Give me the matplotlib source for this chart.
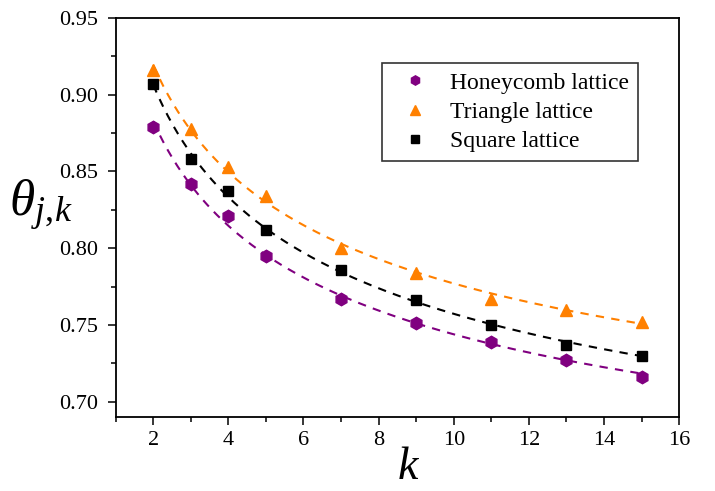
import numpy as np
import matplotlib
matplotlib.use("Agg")
import matplotlib.pyplot as plt
from matplotlib.ticker import MultipleLocator

plt.rcParams['font.family'] = ['Liberation Serif', 'DejaVu Serif']
plt.rcParams['mathtext.fontset'] = 'custom'
plt.rcParams['mathtext.it'] = 'Liberation Serif:italic'
plt.rcParams['mathtext.rm'] = 'Liberation Serif'

k_vals = [2, 3, 4, 5, 7, 9, 11, 13, 15]
honeycomb = [0.879, 0.842, 0.821, 0.795, 0.767, 0.751, 0.739, 0.727, 0.716]
triangle = [0.916, 0.878, 0.853, 0.834, 0.800, 0.784, 0.767, 0.760, 0.752]
square = [0.907, 0.858, 0.837, 0.812, 0.786, 0.766, 0.750, 0.737, 0.730]

series = [
    ("Honeycomb lattice", honeycomb, "#800080", "h", 9),
    ("Triangle lattice", triangle, "#FF8000", "^", 9),
    ("Square lattice", square, "#000000", "s", 7.5),
]


def fit_curve(x, y, xs):
    x = np.asarray(x, float)
    y = np.asarray(y, float)
    best = None
    for c in np.linspace(0.3, 3.0, 271):
        A = np.vstack([np.ones_like(x), x ** (-c)]).T
        coef, res, *_ = np.linalg.lstsq(A, y, rcond=None)
        err = np.sum((A @ coef - y) ** 2)
        if best is None or err < best[0]:
            best = (err, coef, c)
    _, coef, c = best
    return coef[0] + coef[1] * xs ** (-c)


fig = plt.figure(figsize=(7.15, 4.91), dpi=100)
ax = fig.add_axes([0.1618, 0.1507, 0.7880, 0.8126])

xs = np.linspace(min(k_vals), max(k_vals), 200)
for name, vals, col, mk, ms in series:
    ax.plot(xs, fit_curve(k_vals, vals, xs), linestyle=(0, (4, 3.5)), color=col, lw=1.5, zorder=2)
    ax.plot(k_vals, vals, linestyle='none', marker=mk, color=col, markersize=ms,
            label=name, zorder=3)

ax.set_xlim(1, 16)
ax.set_ylim(0.69, 0.95)
ax.xaxis.set_major_locator(MultipleLocator(2))
ax.xaxis.set_minor_locator(MultipleLocator(1))
ax.yaxis.set_minor_locator(MultipleLocator(0.025))
ax.set_yticks([0.70, 0.75, 0.80, 0.85, 0.90, 0.95])
ax.set_yticklabels(["0.70", "0.75", "0.80", "0.85", "0.90", "0.95"])
ax.tick_params(which='major', direction='out', length=6, width=1.1, labelsize=16, pad=4)
ax.tick_params(axis='y', which='major', pad=6.5)
ax.tick_params(which='minor', direction='out', length=3.5, width=1.1)
for s in ax.spines.values():
    s.set_linewidth(1.3)

ax.set_xlabel(r"$k$", fontsize=33)
ax.xaxis.set_label_coords(0.52, -0.155, transform=ax.transAxes)
ax.xaxis.label.set_va('baseline')
ax.set_ylabel(r"$\theta_{j,\!k}$", fontsize=37, rotation=0, va='center', ha='center')
ax.yaxis.set_label_coords(-0.133, 0.53)

leg = ax.legend(loc='upper right', bbox_to_anchor=(0.927, 0.887), fontsize=17,
                frameon=True, fancybox=False, edgecolor='black', handletextpad=0.5,
                borderpad=0.38, labelspacing=0.33, handlelength=2.0, markerscale=0.75,
                borderaxespad=0)
leg.get_frame().set_linewidth(1.2)

fig.savefig("out.png", dpi=100)
